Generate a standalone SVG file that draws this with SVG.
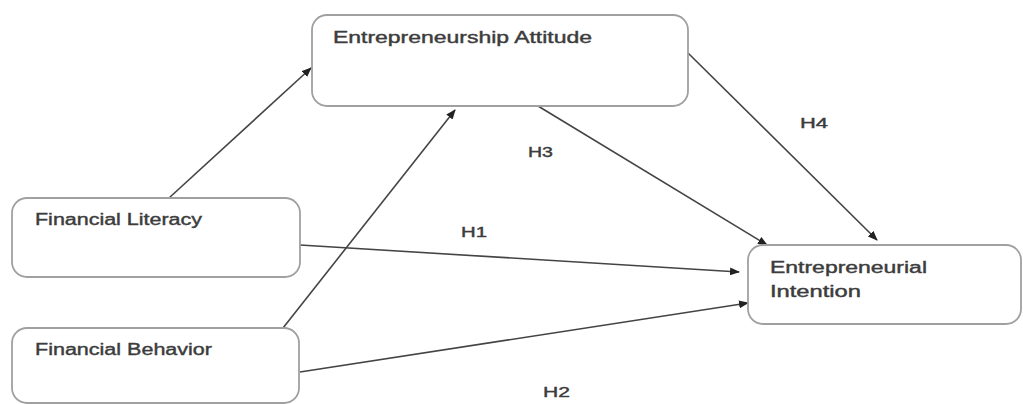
<svg xmlns="http://www.w3.org/2000/svg" width="1023" height="404" viewBox="0 0 1023 404">
<style>
.box{fill:#fff;stroke:#a0a0a0;stroke-width:1.8}
.lbl{font-family:"Liberation Sans",Arial,sans-serif;font-size:16px;fill:#3c3c3c;stroke:#3c3c3c;stroke-width:0.4}
.h{font-family:"Liberation Sans",Arial,sans-serif;font-size:14px;fill:#3c3c3c;stroke:#3c3c3c;stroke-width:0.4}
.conn{stroke:#444;stroke-width:1.6;fill:none;marker-end:url(#ah)}
</style>
<defs>
<marker id="ah" viewBox="0 0 10 8" refX="9" refY="4" markerWidth="10" markerHeight="8" markerUnits="userSpaceOnUse" orient="auto">
<path d="M0,0 L10,4 L0,8 z" fill="#222"/>
</marker>
</defs>
<rect width="1023" height="404" fill="#fff"/>
<g id="connectors">
<line class="conn" x1="169" y1="198" x2="311" y2="68"/>
<line class="conn" x1="283" y1="328" x2="455" y2="110"/>
<line class="conn" x1="538" y1="106" x2="767" y2="245"/>
<line class="conn" x1="687" y1="52" x2="877" y2="240"/>
<line class="conn" x1="300" y1="245" x2="739" y2="272"/>
<line class="conn" x1="300" y1="372" x2="748" y2="303"/>
</g>
<g id="labels">
<text class="h" x="800" y="128" textLength="28" lengthAdjust="spacingAndGlyphs">H4</text>
<text class="h" x="528" y="157" textLength="25" lengthAdjust="spacingAndGlyphs">H3</text>
<text class="h" x="461" y="237" textLength="26" lengthAdjust="spacingAndGlyphs">H1</text>
<text class="h" x="543" y="397" textLength="27" lengthAdjust="spacingAndGlyphs">H2</text>
</g>
<g id="node-ea">
<rect class="box" x="312" y="15" width="376" height="91" rx="15"/>
<text class="lbl" x="333" y="43" textLength="259" lengthAdjust="spacingAndGlyphs">Entrepreneurship Attitude</text>
</g>
<g id="node-fl">
<rect class="box" x="12" y="198" width="288" height="79" rx="15"/>
<text class="lbl" x="35" y="225" textLength="167" lengthAdjust="spacingAndGlyphs">Financial Literacy</text>
</g>
<g id="node-fb">
<rect class="box" x="12" y="328" width="287" height="75" rx="15"/>
<text class="lbl" x="35" y="355" textLength="177" lengthAdjust="spacingAndGlyphs">Financial Behavior</text>
</g>
<g id="node-ei">
<rect class="box" x="748" y="245" width="273" height="79" rx="15"/>
<text class="lbl" x="770" y="273" textLength="157" lengthAdjust="spacingAndGlyphs">Entrepreneurial</text>
<text class="lbl" x="770" y="297" textLength="91" lengthAdjust="spacingAndGlyphs">Intention</text>
</g>
</svg>
